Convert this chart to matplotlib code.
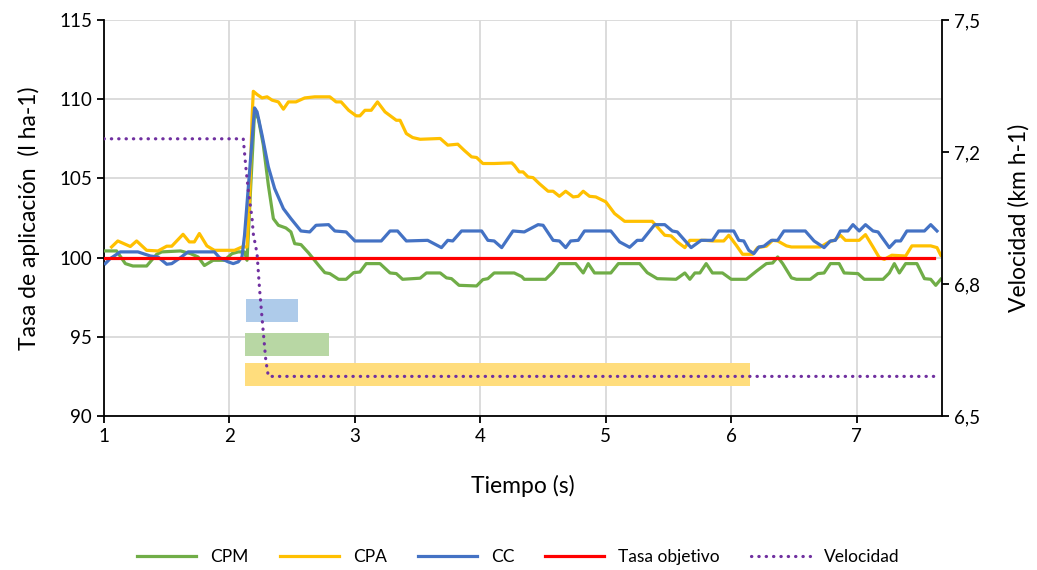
import numpy as np
import matplotlib
matplotlib.use("Agg")
import matplotlib.pyplot as plt
from matplotlib.ticker import FuncFormatter

plt.rcParams['font.family'] = ['Lato', 'DejaVu Sans']

# CPM (green)
cpm_t = [1.01, 1.10, 1.17, 1.23, 1.34, 1.42, 1.46, 1.61, 1.69, 1.75, 1.80, 1.87, 1.96, 2.02,
         2.07, 2.12, 2.14, 2.17, 2.20, 2.23, 2.27, 2.31, 2.35, 2.39, 2.45, 2.49, 2.52, 2.57,
         2.63, 2.71, 2.76, 2.80, 2.87, 2.93, 2.99, 3.04, 3.09, 3.20, 3.28, 3.33, 3.38, 3.52,
         3.57, 3.68, 3.73, 3.77, 3.83, 3.97, 4.02, 4.06, 4.11, 4.27, 4.33, 4.35, 4.52, 4.58,
         4.63, 4.76, 4.82, 4.86, 4.91, 5.04, 5.10, 5.27, 5.33, 5.41, 5.56, 5.63, 5.67, 5.71,
         5.75, 5.80, 5.85, 5.93, 6.00, 6.12, 6.20, 6.28, 6.33, 6.37, 6.41, 6.48, 6.52, 6.63,
         6.69, 6.74, 6.79, 6.86, 6.90, 7.01, 7.06, 7.21, 7.26, 7.30, 7.34, 7.39, 7.48, 7.54,
         7.59, 7.63, 7.67]
cpm = [100.42, 100.42, 99.62, 99.47, 99.47, 100.21, 100.36, 100.42, 100.25, 100.04, 99.50,
       99.83, 99.83, 100.25, 100.36, 100.36, 99.83, 104.57, 109.20, 108.78, 107.10, 104.57,
       102.46, 102.04, 101.87, 101.62, 100.88, 100.82, 100.30, 99.52, 99.05, 98.99, 98.63,
       98.63, 99.05, 99.09, 99.62, 99.62, 99.03, 98.99, 98.63, 98.70, 99.03, 99.03, 98.72,
       98.67, 98.25, 98.21, 98.61, 98.67, 99.03, 99.03, 98.80, 98.63, 98.63, 99.09, 99.62,
       99.62, 99.03, 99.62, 99.03, 99.03, 99.62, 99.62, 99.05, 98.67, 98.63, 99.03, 98.63,
       99.03, 99.03, 99.62, 99.03, 99.03, 98.63, 98.63, 99.14, 99.62, 99.66, 100.04, 99.62,
       98.72, 98.63, 98.63, 98.99, 99.03, 99.62, 99.62, 99.03, 98.99, 98.63, 98.63, 99.03,
       99.62, 99.03, 99.62, 99.62, 98.67, 98.63, 98.25, 98.63]

# CPA (yellow)
cpa_t = [1.06, 1.11, 1.21, 1.26, 1.34, 1.43, 1.50, 1.54, 1.63, 1.68, 1.72, 1.76, 1.82, 1.86,
         1.88, 1.96, 2.04, 2.10, 2.14, 2.16, 2.18, 2.19, 2.22, 2.26, 2.30, 2.34, 2.39, 2.43,
         2.47, 2.53, 2.60, 2.68, 2.80, 2.85, 2.89, 2.95, 3.01, 3.04, 3.08, 3.13, 3.18, 3.24,
         3.33, 3.36, 3.41, 3.46, 3.52, 3.68, 3.74, 3.82, 3.87, 3.93, 3.97, 4.02, 4.11, 4.25,
         4.27, 4.31, 4.34, 4.38, 4.42, 4.47, 4.54, 4.58, 4.63, 4.68, 4.74, 4.78, 4.82, 4.87,
         4.92, 5.00, 5.07, 5.15, 5.37, 5.41, 5.47, 5.52, 5.57, 5.63, 5.67, 5.79, 5.85, 5.94,
         5.98, 6.04, 6.09, 6.17, 6.21, 6.28, 6.33, 6.37, 6.44, 6.48, 6.71, 6.78, 6.82, 6.87,
         6.91, 7.02, 7.07, 7.13, 7.18, 7.22, 7.28, 7.39, 7.44, 7.59, 7.64, 7.67]
cpa = [100.67, 101.05, 100.70, 101.05, 100.46, 100.42, 100.72, 100.72, 101.47, 100.99, 100.99,
       101.52, 100.74, 100.55, 100.46, 100.46, 100.46, 100.67, 100.67, 103.50, 108.80, 110.50,
       110.30, 110.08, 110.15, 109.94, 109.83, 109.37, 109.83, 109.83, 110.08, 110.15, 110.15,
       109.83, 109.83, 109.30, 108.95, 108.95, 109.30, 109.30, 109.83, 109.20, 108.67, 108.67,
       107.83, 107.58, 107.47, 107.52, 107.10, 107.16, 106.78, 106.36, 106.32, 105.94, 105.94,
       105.98, 105.83, 105.41, 105.41, 105.09, 105.05, 104.67, 104.19, 104.19, 103.87, 104.19,
       103.83, 103.87, 104.19, 103.87, 103.83, 103.52, 102.78, 102.29, 102.29, 101.94, 101.41,
       101.37, 100.99, 100.63, 101.09, 101.09, 101.05, 101.05, 101.41, 100.78, 100.21, 100.21,
       100.63, 100.72, 101.09, 101.05, 100.74, 100.67, 100.67, 100.99, 101.09, 101.41, 101.09,
       101.09, 101.45, 100.67, 100.00, 99.89, 100.15, 100.10, 100.74, 100.74, 100.63, 100.15]

# CC (blue)
cc_t = [1.01, 1.05, 1.13, 1.27, 1.37, 1.43, 1.50, 1.54, 1.61, 1.67, 1.88, 1.92, 1.99, 2.03,
        2.07, 2.10, 2.12, 2.16, 2.20, 2.22, 2.26, 2.31, 2.36, 2.43, 2.49, 2.57, 2.64, 2.69,
        2.79, 2.84, 2.93, 3.00, 3.21, 3.28, 3.34, 3.41, 3.58, 3.69, 3.74, 3.78, 3.85, 4.01,
        4.06, 4.11, 4.17, 4.26, 4.35, 4.46, 4.50, 4.58, 4.63, 4.68, 4.72, 4.78, 4.83, 5.04,
        5.11, 5.19, 5.25, 5.29, 5.39, 5.47, 5.53, 5.57, 5.68, 5.76, 5.85, 5.90, 6.02, 6.06,
        6.10, 6.14, 6.18, 6.22, 6.26, 6.32, 6.37, 6.42, 6.59, 6.66, 6.74, 6.79, 6.83, 6.87,
        6.93, 6.97, 7.02, 7.07, 7.13, 7.17, 7.26, 7.31, 7.35, 7.40, 7.54, 7.59, 7.64]
cc = [99.62, 99.94, 100.36, 100.36, 100.10, 100.04, 99.58, 99.62, 100.00, 100.36, 100.36,
      100.00, 99.73, 99.62, 99.73, 100.04, 101.41, 105.41, 109.45, 109.20, 107.73, 105.73,
      104.36, 103.09, 102.46, 101.68, 101.62, 102.04, 102.08, 101.68, 101.62, 101.05, 101.05,
      101.68, 101.68, 101.05, 101.09, 100.63, 101.09, 101.05, 101.68, 101.68, 101.09, 101.05,
      100.63, 101.68, 101.62, 102.08, 102.04, 101.09, 101.05, 100.63, 101.05, 101.09, 101.68,
      101.68, 100.99, 100.65, 101.09, 101.09, 102.08, 102.08, 101.68, 101.62, 100.63, 101.09,
      101.09, 101.68, 101.68, 101.09, 101.05, 100.46, 100.25, 100.67, 100.72, 101.09, 101.09,
      101.68, 101.68, 101.05, 100.63, 101.05, 101.09, 101.68, 101.68, 102.08, 101.68, 102.08,
      101.68, 101.62, 100.63, 101.05, 101.05, 101.68, 101.68, 102.08, 101.68]

# Tasa objetivo
target_t = [1.0, 7.62]
target = [100, 100]

# Velocidad (right axis)
vel_t = [1.0, 2.11, 2.13, 2.15, 2.18, 2.19, 2.22, 2.24, 2.27, 2.29, 2.31, 7.63]
vel = [7.2, 7.2, 7.13, 7.07, 7.0, 6.96, 6.91, 6.82, 6.71, 6.64, 6.6, 6.6]

# shaded bands (start, end, low, high)
band_start = [2.13, 2.12, 2.12]
band_end = [2.55, 2.79, 6.15]
band_low = [95.95, 93.8, 91.9]
band_high = [97.4, 95.25, 93.35]
band_colors = ['#aecbea', '#b8d7a4', '#ffdd7d']

fig = plt.figure(figsize=(10.37, 5.70), dpi=100)
ax = fig.add_axes([0.1003, 0.2702, 0.8081, 0.6947])

for s, e, lo, hi, c in zip(band_start, band_end, band_low, band_high, band_colors):
    ax.barh((lo + hi) / 2, e - s, left=s, height=hi - lo, color=c, zorder=1.5)

l1, = ax.plot(cpm_t, cpm, color='#70ad47', lw=2.3, label='CPM', zorder=3)
l2, = ax.plot(cpa_t, cpa, color='#ffc000', lw=2.3, label='CPA', zorder=3)
l3, = ax.plot(cc_t, cc, color='#4472c4', lw=2.3, label='CC', zorder=3)
l4, = ax.plot(target_t, target, color='#ff0000', lw=2.3, label='Tasa objetivo', zorder=4)

ax.set_xlim(1, 7.68)
ax.set_ylim(90, 115)
ax.set_xticks(range(1, 8))
ax.set_yticks(range(90, 116, 5))
ax.grid(True, color='#d9d9d9', lw=1.3)
ax.set_axisbelow(True)
for sp in ['left', 'bottom']:
    ax.spines[sp].set_linewidth(1.3)
ax.spines['top'].set_visible(False)
ax.spines['right'].set_visible(False)
ax.tick_params(direction='out', length=5, width=1.3, labelsize=13.5)
ax.set_xlabel('Tiempo (s)', fontsize=16.5, labelpad=22)
ax.set_ylabel('Tasa de aplicación  (l ha-1)', fontsize=16.5, labelpad=14)

ax2 = ax.twinx()
l5, = ax2.plot(vel_t, vel, color='#7030a0', lw=2.3, linestyle=(0, (0.1, 2.2)),
               dash_capstyle='round', label='Velocidad')
ax2.set_ylim(6.5, 7.5)
ax2.set_yticks(np.linspace(6.5, 7.5, 4))
ax2.yaxis.set_major_formatter(FuncFormatter(lambda v, p: f"{v:.1f}".replace('.', ',')))
ax2.spines['right'].set_linewidth(1.3)
for sp in ['left', 'bottom', 'top']:
    ax2.spines[sp].set_visible(False)
ax2.tick_params(direction='out', length=5, width=1.3, labelsize=13.5)
ax2.set_ylabel('Velocidad (km h-1)', fontsize=16.5, labelpad=20)

fig.legend(handles=[l1, l2, l3, l4, l5], loc='lower center', bbox_to_anchor=(0.5, -0.018),
           ncol=5, frameon=False, fontsize=12.5, handlelength=3.4, columnspacing=1.8)

fig.savefig('out.png', dpi=100)
